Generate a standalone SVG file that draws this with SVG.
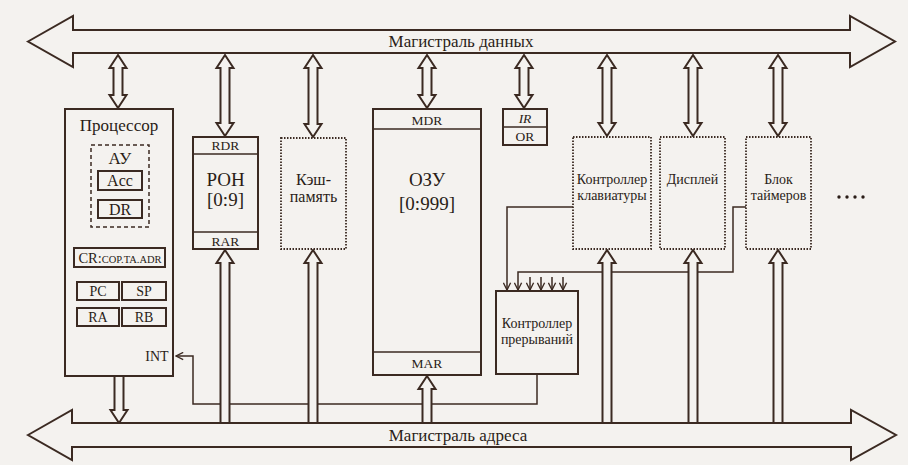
<svg xmlns="http://www.w3.org/2000/svg" width="908" height="465" viewBox="0 0 908 465">
<style>
  .bg{fill:#f4f2ef}
  .box{fill:#f4f2ef;stroke:#3b2a22;stroke-width:2}
  .dot{fill:#f4f2ef;stroke:#3b2a22;stroke-width:1.8;stroke-dasharray:1.5 1.5}
  .dash{fill:none;stroke:#3b2a22;stroke-width:1.5;stroke-dasharray:4 3}
  .dbl{fill:#f4f2ef;stroke:#3b2a22;stroke-width:2;stroke-linejoin:miter}
  .line{fill:none;stroke:#3b2a22;stroke-width:1.5}
  text{font-family:"Liberation Serif","DejaVu Serif",serif;fill:#2a1d17;text-anchor:middle}
  .t19{font-size:19px}
  .t17{font-size:17px}
  .t16{font-size:16px}
  .t15{font-size:15px}
  .t14{font-size:14px}
  .t13{font-size:13.5px}
</style>
<defs>
  <marker id="chev" viewBox="0 0 10 10" refX="9" refY="5" markerWidth="9" markerHeight="9" markerUnits="userSpaceOnUse" orient="auto">
    <path d="M1 1 L9 5 L1 9" fill="none" stroke="#3b2a22" stroke-width="1.5"/>
  </marker>
</defs>
<rect class="bg" x="0" y="0" width="908" height="465"/>

<g id="connectors">
  <path class="line" d="M537 374 V404 H193 V356 H176" marker-end="url(#chev)"/>
  <path class="line" d="M573 207 H507 V290" marker-end="url(#chev)"/>
  <path class="line" d="M746 207 H733 V272 H518 V290" marker-end="url(#chev)"/>
  <path class="line" d="M530 277 V290" marker-end="url(#chev)"/>
  <path class="line" d="M541 277 V290" marker-end="url(#chev)"/>
  <path class="line" d="M552 277 V290" marker-end="url(#chev)"/>
  <path class="line" d="M563 277 V290" marker-end="url(#chev)"/>
  <path class="dbl" d="M118 55 L126.5 68 H122.5 V95 H126.5 L118 108 L109.5 95 H113.5 V68 H109.5 Z"/>
  <path class="dbl" d="M225 55 L233.5 68 H229.5 V123 H233.5 L225 136 L216.5 123 H220.5 V68 H216.5 Z"/>
  <path class="dbl" d="M313 55 L321.5 68 H317.5 V124 H321.5 L313 137 L304.5 124 H308.5 V68 H304.5 Z"/>
  <path class="dbl" d="M427 55 L435.5 68 H431.5 V95 H435.5 L427 108 L418.5 95 H422.5 V68 H418.5 Z"/>
  <path class="dbl" d="M524 55 L532.5 68 H528.5 V95 H532.5 L524 108 L515.5 95 H519.5 V68 H515.5 Z"/>
  <path class="dbl" d="M607 55 L615.5 68 H611.5 V123 H615.5 L607 136 L598.5 123 H602.5 V68 H598.5 Z"/>
  <path class="dbl" d="M693 55 L701.5 68 H697.5 V123 H701.5 L693 136 L684.5 123 H688.5 V68 H684.5 Z"/>
  <path class="dbl" d="M778 55 L786.5 68 H782.5 V123 H786.5 L778 136 L769.5 123 H773.5 V68 H769.5 Z"/>
  <path class="dbl" d="M114.5 377 V410 H110.5 L119 423 L127.5 410 H123.5 V377"/>
  <path class="dbl" d="M220.5 423 V263 H216.5 L225 250 L233.5 263 H229.5 V423"/>
  <path class="dbl" d="M308.5 423 V263 H304.5 L313 250 L321.5 263 H317.5 V423"/>
  <path class="dbl" d="M422.5 423 V389 H418.5 L427 376 L435.5 389 H431.5 V423"/>
  <path class="dbl" d="M602.5 423 V263 H598.5 L607 250 L615.5 263 H611.5 V423"/>
  <path class="dbl" d="M688.5 423 V263 H684.5 L693 250 L701.5 263 H697.5 V423"/>
  <path class="dbl" d="M773.5 423 V263 H769.5 L778 250 L786.5 263 H782.5 V423"/>
</g>

<g id="data-bus">
  <path class="dbl" d="M28 41.5 L73 16 V30 H850 V16 L895 41.5 L850 67 V53 H73 V67 Z"/>
  <text class="t17" x="461" y="47">Магистраль данных</text>
</g>

<g id="address-bus">
  <path class="dbl" d="M28 435 L72 410 V423 H851 V410 L896 435 L851 460 V447 H72 V460 Z"/>
  <text class="t17" x="458" y="441">Магистраль адреса</text>
</g>

<g id="processor">
  <rect class="box" x="65" y="109" width="108" height="267"/>
  <text class="t17" x="119" y="131">Процессор</text>
  <rect class="dash" x="91" y="145" width="58" height="82"/>
  <text class="t17" x="120" y="164">АУ</text>
  <rect class="box" x="98" y="171" width="44" height="19"/>
  <text class="t16" x="120" y="186">Acc</text>
  <rect class="box" x="98" y="200" width="44" height="18"/>
  <text class="t16" x="120" y="215">DR</text>
  <rect class="box" x="74" y="248" width="91" height="19"/>
  <text x="120" y="263"><tspan font-size="14.5">CR:</tspan><tspan font-size="10.5">COP.TA.ADR</tspan></text>
  <rect class="box" x="77" y="282" width="42" height="18"/>
  <text class="t14" x="98" y="296">PC</text>
  <rect class="box" x="122" y="282" width="44" height="18"/>
  <text class="t14" x="144" y="296">SP</text>
  <rect class="box" x="77" y="308" width="42" height="18"/>
  <text class="t14" x="98" y="322">RA</text>
  <rect class="box" x="122" y="308" width="44" height="18"/>
  <text class="t14" x="144" y="322">RB</text>
  <text class="t14" x="157" y="361">INT</text>
</g>

<g id="ron">
  <rect class="box" x="193" y="137" width="65" height="112"/>
  <line class="line" x1="193" y1="154" x2="258" y2="154" stroke-width="2"/>
  <line class="line" x1="193" y1="232" x2="258" y2="232" stroke-width="2"/>
  <text class="t13" x="225.5" y="150">RDR</text>
  <text class="t19" x="225.5" y="186">РОН</text>
  <text class="t19" x="225.5" y="206">[0:9]</text>
  <text class="t13" x="225.5" y="246">RAR</text>
</g>

<g id="cache">
  <rect class="dot" x="281" y="138" width="65" height="111"/>
  <text class="t16" x="313.5" y="185">Кэш-</text>
  <text class="t16" x="313.5" y="202">память</text>
</g>

<g id="ozu">
  <rect class="box" x="373" y="109" width="108" height="266"/>
  <line class="line" x1="373" y1="129" x2="481" y2="129" stroke-width="2"/>
  <line class="line" x1="373" y1="352" x2="481" y2="352" stroke-width="2"/>
  <text class="t13" x="427" y="125">MDR</text>
  <text class="t19" x="427" y="186">ОЗУ</text>
  <text class="t19" x="427" y="210">[0:999]</text>
  <text class="t13" x="427" y="368">MAR</text>
</g>

<g id="ir-or">
  <rect class="box" x="503" y="109" width="44" height="36"/>
  <line class="line" x1="503" y1="127" x2="547" y2="127" stroke-width="2"/>
  <text class="t13" x="525" y="123" font-style="italic">IR</text>
  <text class="t13" x="525" y="141">OR</text>
</g>

<g id="keyboard">
  <rect class="dot" x="573" y="137" width="78" height="112"/>
  <text class="t14" x="612" y="184">Контроллер</text>
  <text class="t14" x="612" y="200">клавиатуры</text>
</g>

<g id="display">
  <rect class="dot" x="660" y="137" width="65" height="112"/>
  <text class="t14" x="692.5" y="184">Дисплей</text>
</g>

<g id="timers">
  <rect class="dot" x="746" y="137" width="65" height="112"/>
  <text class="t14" x="778.5" y="184">Блок</text>
  <text class="t14" x="778.5" y="200">таймеров</text>
</g>

<g id="interrupt-controller">
  <rect class="box" x="496" y="291" width="82" height="83"/>
  <text class="t14" x="537" y="328">Контроллер</text>
  <text class="t14" x="537" y="344">прерываний</text>
</g>

<g id="more">
  <circle cx="839" cy="197" r="1.7" fill="#2a1d17"/>
  <circle cx="847" cy="197" r="1.7" fill="#2a1d17"/>
  <circle cx="855" cy="197" r="1.7" fill="#2a1d17"/>
  <circle cx="863" cy="197" r="1.7" fill="#2a1d17"/>
</g>
</svg>
